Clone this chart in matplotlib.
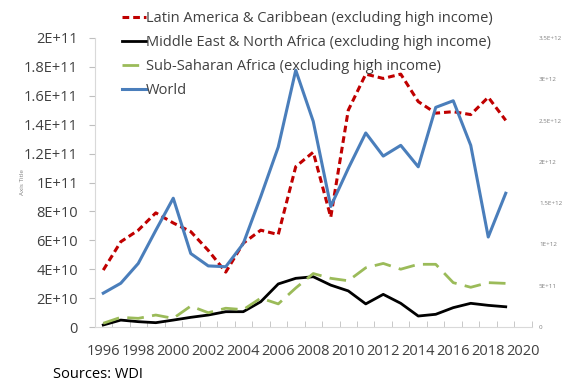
import matplotlib.pyplot as plt
from matplotlib.ticker import FixedLocator

plt.rcParams['font.family'] = ['Open Sans', 'DejaVu Sans']

years = list(range(1996, 2020))
latam = [3.94e10, 5.9e10, 6.7e10, 7.9e10, 7.2e10, 6.6e10, 5.3e10, 3.8e10, 5.8e10, 6.7e10,
         6.4e10, 1.11e11, 1.21e11, 7.6e10, 1.50e11, 1.75e11, 1.72e11, 1.75e11, 1.56e11, 1.48e11,
         1.49e11, 1.47e11, 1.59e11, 1.43e11]
mena = [1.4e9, 4.8e9, 3.7e9, 3.0e9, 4.8e9, 6.7e9, 8.3e9, 1.06e10, 1.06e10, 1.75e10,
        2.98e10, 3.37e10, 3.48e10, 2.9e10, 2.5e10, 1.6e10, 2.26e10, 1.64e10, 7.6e9, 8.8e9,
        1.34e10, 1.64e10, 1.5e10, 1.4e10]
ssa = [2.6e9, 6.7e9, 6.0e9, 8.3e9, 6.0e9, 1.45e10, 9.9e9, 1.3e10, 1.2e10, 2.0e10,
       1.6e10, 2.7e10, 3.7e10, 3.37e10, 3.2e10, 4.1e10, 4.4e10, 4.0e10, 4.34e10, 4.34e10,
       3.07e10, 2.75e10, 3.07e10, 3.02e10]
world = [0.41e12, 0.53e12, 0.77e12, 1.17e12, 1.56e12, 0.89e12, 0.74e12, 0.73e12, 1.01e12, 1.58e12,
         2.18e12, 3.11e12, 2.49e12, 1.46e12, 1.92e12, 2.35e12, 2.07e12, 2.20e12, 1.94e12, 2.66e12,
         2.74e12, 2.20e12, 1.09e12, 1.62e12]

left_ticks = [0, 2e10, 4e10, 6e10, 8e10, 1e11, 1.2e11, 1.4e11, 1.6e11, 1.8e11, 2e11]
left_labels = ['0', '2E+10', '4E+10', '6E+10', '8E+10', '1E+11', '1.2E+11', '1.4E+11',
               '1.6E+11', '1.8E+11', '2E+11']
right_ticks = [0, 5e11, 1e12, 1.5e12, 2e12, 2.5e12, 3e12, 3.5e12]
right_labels = ['0', '5E+11', '1E+12', '1.5E+12', '2E+12', '2.5E+12', '3E+12', '3.5E+12']
xtick_years = list(range(1996, 2021, 2))

fig = plt.figure(figsize=(5.68, 3.85), dpi=100)
ax = fig.add_axes([0.1664, 0.1506, 0.9366 - 0.1664, 0.9013 - 0.1506])
ax2 = ax.twinx()

l1, = ax.plot(years, latam, color='#C00000', lw=2.2, ls=(0, (2.2, 1.3)),
              label='Latin America & Caribbean (excluding high income)')
l2, = ax.plot(years, mena, color='black', lw=2.0,
              label='Middle East & North Africa (excluding high income)')
l3, = ax.plot(years, ssa, color='#9BBB59', lw=2.0, ls=(0, (6, 3)),
              label='Sub-Saharan Africa (excluding high income)')
l4, = ax2.plot(years, world, color='#4A7EBB', lw=2.2, label='World')

ax.set_xlim(1995.5, 2020.5)
ax.set_ylim(0, 2e11)
ax2.set_ylim(0, 3.5e12)

ax.set_yticks(left_ticks)
ax.set_yticklabels(left_labels, fontsize=10.5, color='#404040')
ax2.set_yticks(right_ticks)
ax2.set_yticklabels(right_labels, fontsize=4.5, color='#808080')
ax2.tick_params(axis='y', length=0, pad=5)

ax.set_xticks(xtick_years)
ax.set_xticklabels([str(y) for y in xtick_years], fontsize=10.5, color='#404040')
ax.xaxis.set_minor_locator(FixedLocator([y + 0.5 for y in range(1995, 2021)]))
ax.tick_params(axis='x', which='major', length=0, pad=12)
ax.tick_params(axis='x', which='minor', length=4, direction='in', color='#BFBFBF')
ax.tick_params(axis='y', length=4, color='#BFBFBF', direction='out', pad=8)

for a in (ax, ax2):
    for s in ('top', 'right'):
        a.spines[s].set_visible(False)
ax2.spines['left'].set_visible(False)
ax2.spines['bottom'].set_visible(False)
ax.spines['left'].set_color('#D9D9D9')
ax.spines['bottom'].set_color('#D9D9D9')

ax.set_ylabel('Axis Title', fontsize=4.5, color='#808080', labelpad=2)
ax.yaxis.set_label_coords(-0.16, 0.5)

fig.legend(handles=[l1, l2, l3, l4], loc='upper left', bbox_to_anchor=(0.2, 0.995),
           frameon=False, fontsize=10.5, handlelength=1.6, handletextpad=0.0,
           labelspacing=0.62, borderaxespad=0.2, labelcolor='#404040')

fig.text(0.093, 0.018, 'Sources: WDI', fontsize=10.5, color='black')

fig.savefig('out.png', dpi=100)
